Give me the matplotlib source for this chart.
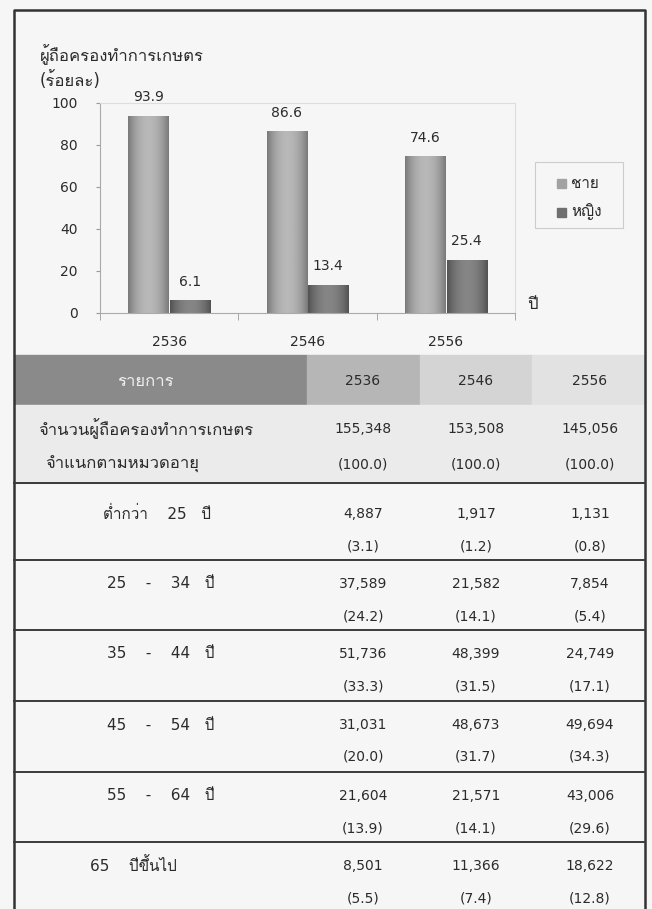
import numpy as np
import matplotlib
matplotlib.use('Agg')
import matplotlib.pyplot as plt
from matplotlib import font_manager
from matplotlib.ft2font import FT2Font
from matplotlib.patches import Rectangle

# data
years = ['2536', '2546', '2556']
male = [93.9, 86.6, 74.6]
female = [6.1, 13.4, 25.4]
series_names = ['ชาย', 'หญิง']

totals = [155348, 153508, 145056]
total_pct = [100.0, 100.0, 100.0]
age_groups = ['ต่ำกว่า    25   ปี', '25    -    34   ปี', '35    -    44   ปี',
              '45    -    54   ปี', '55    -    64   ปี', '65    ปีขึ้นไป']
counts = [[4887, 1917, 1131],
          [37589, 21582, 7854],
          [51736, 48399, 24749],
          [31031, 48673, 49694],
          [21604, 21571, 43006],
          [8501, 11366, 18622]]
pcts = [[3.1, 1.2, 0.8],
        [24.2, 14.1, 5.4],
        [33.3, 31.5, 17.1],
        [20.0, 31.7, 34.3],
        [13.9, 14.1, 29.6],
        [5.5, 7.4, 12.8]]

# find some installed font that has thai glyphs
thai_font = None
for f in font_manager.fontManager.ttflist:
    try:
        if FT2Font(f.fname).get_char_index(ord('ก')):
            thai_font = f.name
            break
    except Exception:
        pass
fams = ['DejaVu Sans']
if thai_font:
    fams.append(thai_font)
plt.rcParams['font.family'] = fams

W, H = 652, 909
txt = '#2b2b2b'
fs = 10      # numbers
tfs = 12     # thai text
male_col, female_col = '#a2a2a2', '#6f6f6f'
fig = plt.figure(figsize=(W / 100, H / 100), dpi=100, facecolor='#f6f6f6')

# page layer in pixel coords
bg = fig.add_axes([0, 0, 1, 1])
bg.set_xlim(0, W)
bg.set_ylim(H, 0)
bg.axis('off')

# outer border
bg.plot([14, 14, 645, 645], [H, 10, 10, H], color='#333333', lw=1.8)

bg.text(40, 55, 'ผู้ถือครองทำการเกษตร', fontsize=tfs, color=txt, va='center')
bg.text(40, 81, '(ร้อยละ)', fontsize=tfs, color=txt, va='center')
bg.text(527, 304, 'ปี', fontsize=tfs, color=txt, va='center')

# chart
ax = fig.add_axes([100 / W, 1 - 313 / H, 415 / W, 210 / H])
ax.set_facecolor('none')
x = np.arange(len(years))
bw = 0.29
b1 = ax.bar(x - 0.15, male, bw, color=male_col, edgecolor='#8a8a8a', lw=0.6)
b2 = ax.bar(x + 0.15, female, bw, color=female_col, edgecolor='#5c5c5c', lw=0.6)

# cylinder-ish shading on the bars
grad = np.cos(np.linspace(-1.2, 1.2, 50)) ** 0.6
grad = grad.reshape(1, -1)
for bars, lo, hi in [(b1, '#7a7a7a', '#b8b8b8'), (b2, '#535353', '#858585')]:
    cmap = matplotlib.colors.LinearSegmentedColormap.from_list('g', [lo, hi])
    for p in bars:
        x0, w, h = p.get_x(), p.get_width(), p.get_height()
        im = ax.imshow(grad, extent=[x0, x0 + w, 0, h], cmap=cmap, aspect='auto',
                       vmin=grad.min(), vmax=1, zorder=2)
        im.set_clip_path(p)

for i in range(len(years)):
    ax.text(x[i] - 0.15, male[i] + 5.5, f'{male[i]:.1f}', ha='center', va='bottom', fontsize=fs, color=txt)
    ax.text(x[i] + 0.15, female[i] + 5.5, f'{female[i]:.1f}', ha='center', va='bottom', fontsize=fs, color=txt)

ax.set_xlim(-0.5, 2.5)
ax.set_ylim(0, 100)
ax.set_yticks(range(0, 101, 20))
ax.set_xticks(x)
ax.set_xticklabels(years)
ax.set_xticks([-0.5, 0.5, 1.5, 2.5], minor=True)
ax.tick_params(axis='x', which='major', length=0, pad=16, labelsize=fs, labelcolor=txt)
ax.tick_params(axis='x', which='minor', length=5, color='#999999')
ax.tick_params(axis='y', length=3, color='#999999', labelsize=fs, labelcolor=txt, pad=13)
for s in ['top', 'right']:
    ax.spines[s].set_color('#dddddd')
for s in ['left', 'bottom']:
    ax.spines[s].set_color('#aaaaaa')

# legend box (drawn by hand to get the wide padding of the original)
bg.add_patch(Rectangle((535, 162), 88, 66, fill=False, ec='#cccccc', lw=0.8))
for j, (name, col) in enumerate(zip(series_names, [male_col, female_col])):
    yy = 183 + j * 29
    bg.add_patch(Rectangle((557, yy - 4.5), 9, 9, color=col))
    bg.text(571, yy, name, fontsize=11, color=txt, va='center')

# table header
bg.add_patch(Rectangle((15, 355), 292, 50, color='#8a8a8a'))
bg.add_patch(Rectangle((307, 355), 113, 50, color='#b6b6b6'))
bg.add_patch(Rectangle((420, 355), 112, 50, color='#d4d4d4'))
bg.add_patch(Rectangle((532, 355), 112, 50, color='#e2e2e2'))
bg.text(145, 381, 'รายการ', ha='center', va='center', fontsize=tfs, color='#efefef')
col_x = [363, 476, 590]
for cx, yr in zip(col_x, years):
    bg.text(cx, 381, yr, ha='center', va='center', fontsize=fs, color=txt)

# first block (totals)
bg.add_patch(Rectangle((15, 405), 629, 78, color='#ebebeb'))
bg.text(38, 429, 'จำนวนผู้ถือครองทำการเกษตร', fontsize=tfs, color=txt, va='center')
bg.text(45, 464, 'จำแนกตามหมวดอายุ', fontsize=tfs, color=txt, va='center')
for cx, v, p in zip(col_x, totals, total_pct):
    bg.text(cx, 429, f'{v:,}', ha='center', va='center', fontsize=fs, color=txt)
    bg.text(cx, 464, f'({p:.1f})', ha='center', va='center', fontsize=fs, color=txt)

# age groups
lines = [483, 560, 630, 701, 772, 842]
label_x = [103, 107, 107, 107, 107, 90]
for k, name in enumerate(age_groups):
    top = lines[k]
    off = 31 if k == 0 else 24
    bg.plot([14, 645], [top, top], color='#3a3a3a', lw=1.4)
    bg.text(label_x[k], top + off, name, fontsize=fs + 1, color=txt, va='center')
    for cx, v, p in zip(col_x, counts[k], pcts[k]):
        bg.text(cx, top + off, f'{v:,}', ha='center', va='center', fontsize=fs, color=txt)
        bg.text(cx, top + off + 32, f'({p:.1f})', ha='center', va='center', fontsize=fs, color=txt)

fig.savefig('out.png', dpi=100, facecolor=fig.get_facecolor())
